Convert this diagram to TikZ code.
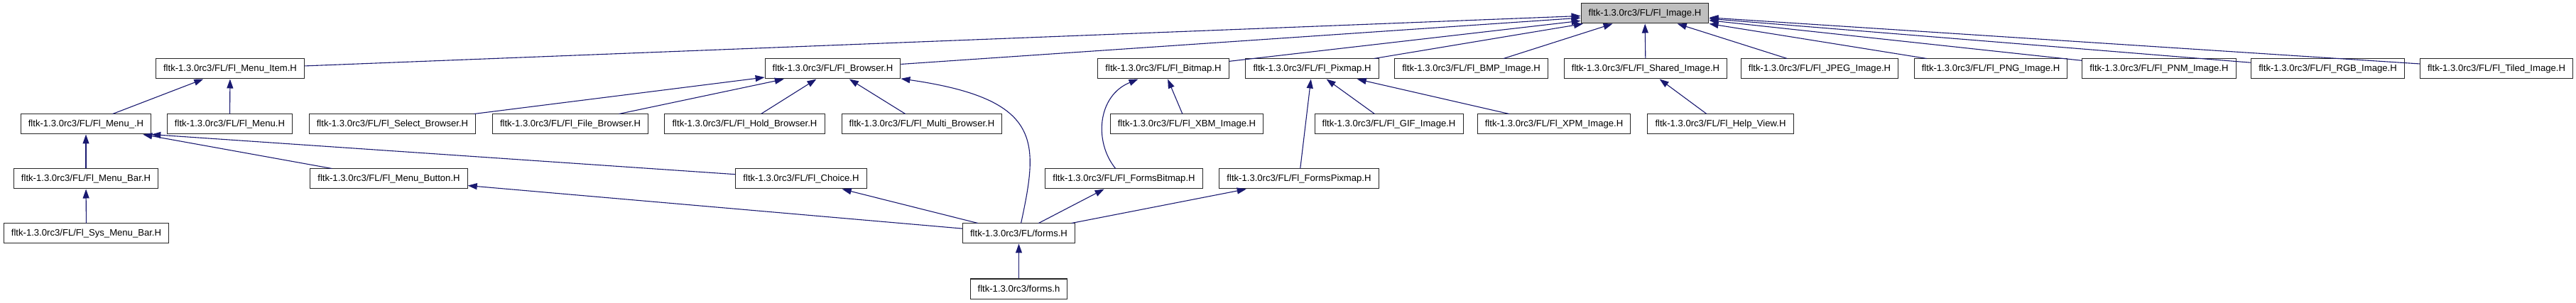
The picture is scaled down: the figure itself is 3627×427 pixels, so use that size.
\documentclass[tikz,border=0pt]{standalone}
\usepackage{fontspec}
\setmainfont{Liberation Sans}[Ligatures=NoCommon]
\usetikzlibrary{arrows.meta}
\definecolor{edge}{HTML}{191970}
\definecolor{cur}{HTML}{BFBFBF}

\begin{document}
\begin{tikzpicture}[
    x=1pt, y=-1pt,
    >={Triangle[length=13pt, width=9pt]},
    header/.style={draw=black!85, line width=1pt, fill=white, minimum height=28pt,
                   inner xsep=10.6pt, inner ysep=0pt, font=\fontsize{13.1pt}{15pt}\selectfont},
    arrow/.style={->, line width=1.1pt, color=edge},
]
    \useasboundingbox (0,0) rectangle (3627,427);

    % the file itself
    \node[header, fill=cur] (image) at (2316,19) {fltk-1.3.0rc3/FL/Fl\_Image.H};

    % direct includers
    \node[header] (menuitem) at (324,97) {fltk-1.3.0rc3/FL/Fl\_Menu\_Item.H};
    \node[header] (browser) at (1172.5,97) {fltk-1.3.0rc3/FL/Fl\_Browser.H};
    \node[header] (bitmap) at (1638,97) {fltk-1.3.0rc3/FL/Fl\_Bitmap.H};
    \node[header] (pixmap) at (1847.5,97) {fltk-1.3.0rc3/FL/Fl\_Pixmap.H};
    \node[header] (bmp) at (2071.5,97) {fltk-1.3.0rc3/FL/Fl\_BMP\_Image.H};
    \node[header] (shared) at (2317,97) {fltk-1.3.0rc3/FL/Fl\_Shared\_Image.H};
    \node[header] (jpeg) at (2562,97) {fltk-1.3.0rc3/FL/Fl\_JPEG\_Image.H};
    \node[header] (png) at (2803,97) {fltk-1.3.0rc3/FL/Fl\_PNG\_Image.H};
    \node[header] (pnm) at (3040,97) {fltk-1.3.0rc3/FL/Fl\_PNM\_Image.H};
    \node[header] (rgb) at (3277.5,97) {fltk-1.3.0rc3/FL/Fl\_RGB\_Image.H};
    \node[header] (tiled) at (3515,97) {fltk-1.3.0rc3/FL/Fl\_Tiled\_Image.H};

    % second level
    \node[header] (menuu) at (121,175) {fltk-1.3.0rc3/FL/Fl\_Menu\_.H};
    \node[header] (menu) at (323.5,175) {fltk-1.3.0rc3/FL/Fl\_Menu.H};
    \node[header] (select) at (552.5,175) {fltk-1.3.0rc3/FL/Fl\_Select\_Browser.H};
    \node[header] (filebr) at (803,175) {fltk-1.3.0rc3/FL/Fl\_File\_Browser.H};
    \node[header] (hold) at (1048.5,175) {fltk-1.3.0rc3/FL/Fl\_Hold\_Browser.H};
    \node[header] (multi) at (1298,175) {fltk-1.3.0rc3/FL/Fl\_Multi\_Browser.H};
    \node[header] (xbm) at (1671,175) {fltk-1.3.0rc3/FL/Fl\_XBM\_Image.H};
    \node[header] (gif) at (1955.5,175) {fltk-1.3.0rc3/FL/Fl\_GIF\_Image.H};
    \node[header] (xpm) at (2188,175) {fltk-1.3.0rc3/FL/Fl\_XPM\_Image.H};
    \node[header] (helpview) at (2422.5,175) {fltk-1.3.0rc3/FL/Fl\_Help\_View.H};

    % third level
    \node[header] (menubar) at (121,252) {fltk-1.3.0rc3/FL/Fl\_Menu\_Bar.H};
    \node[header] (menubutton) at (547.5,252) {fltk-1.3.0rc3/FL/Fl\_Menu\_Button.H};
    \node[header] (choice) at (1128,252) {fltk-1.3.0rc3/FL/Fl\_Choice.H};
    \node[header] (formsbitmap) at (1582.5,252) {fltk-1.3.0rc3/FL/Fl\_FormsBitmap.H};
    \node[header] (formspixmap) at (1829,252) {fltk-1.3.0rc3/FL/Fl\_FormsPixmap.H};

    % bottom
    \node[header] (sysmenubar) at (121.5,329) {fltk-1.3.0rc3/FL/Fl\_Sys\_Menu\_Bar.H};
    \node[header] (formsH) at (1434.5,329) {fltk-1.3.0rc3/FL/forms.H};
    \node[header] (formsh) at (1434.5,407) {fltk-1.3.0rc3/forms.h};

    % into Fl_Image.H
    \draw[arrow] (menuitem) -- (image);
    \draw[arrow] (browser) -- (image);
    \draw[arrow] (bitmap) -- (image);
    \draw[arrow] (pixmap) -- (image);
    \draw[arrow] (bmp) -- (image);
    \draw[arrow] (shared) -- (image);
    \draw[arrow] (jpeg) -- (image);
    \draw[arrow] (png) -- (image);
    \draw[arrow] (pnm) -- (image);
    \draw[arrow] (rgb) -- (image);
    \draw[arrow] (tiled) -- (image);

    \draw[arrow] (menuu) -- (menuitem);
    \draw[arrow] (menu) -- (menuitem);
    \draw[arrow] (select) -- (browser);
    \draw[arrow] (filebr) -- (browser);
    \draw[arrow] (hold) -- (browser);
    \draw[arrow] (multi) -- (browser);
    \draw[arrow] (formsH) .. controls (1462,200) and (1470,140) .. (browser);
    \draw[arrow] (formsbitmap) .. controls (1540,200) and (1545,135) .. (bitmap);
    \draw[arrow] (xbm) -- (bitmap);
    \draw[arrow] (formspixmap) -- (pixmap);
    \draw[arrow] (gif) -- (pixmap);
    \draw[arrow] (xpm) -- (pixmap);
    \draw[arrow] (helpview) -- (shared);

    \draw[arrow] (menubar) -- (menuu);
    \draw[arrow] (menubutton) -- (menuu);
    \draw[arrow] (choice) -- (menuu.south east);
    \draw[arrow] (sysmenubar) -- (menubar);

    % forms.H
    \draw[arrow] (formsH) -- (menubutton);
    \draw[arrow] (formsH) -- (choice);
    \draw[arrow] (formsH) -- (formsbitmap);
    \draw[arrow] (formsH) -- (formspixmap);
    \draw[arrow] (formsh) -- (formsH);
\end{tikzpicture}
\end{document}
